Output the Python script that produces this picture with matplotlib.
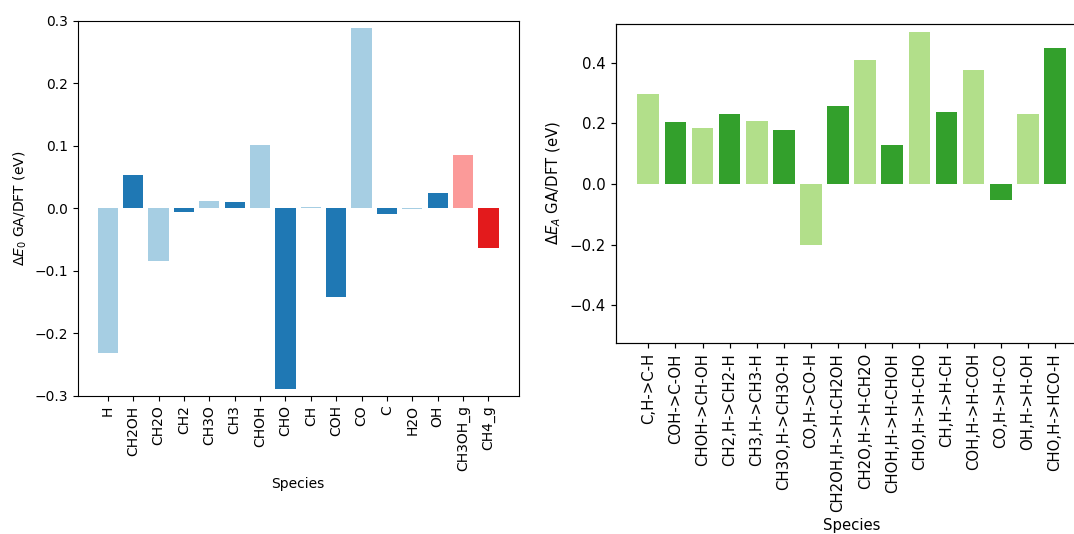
import matplotlib
matplotlib.use('Agg')
import matplotlib.pyplot as plt
import numpy as np

# Especies y diferencias de energia GA/DFT
especies = ['H', 'CH2OH', 'CH2O', 'CH2', 'CH3O', 'CH3', 'CHOH', 'CHO', 'CH',
            'COH', 'CO', 'C', 'H2O', 'OH', 'CH3OH_g', 'CH4_g']
delta_e0 = [-0.2315, 0.053, -0.085, -0.0065, 0.012, 0.0103, 0.101, -0.290, 0.002,
            -0.142, 0.289, -0.010, -0.001, 0.0245, 0.085, -0.064]

# Reacciones y diferencias de energia de activacion
reacciones = ['C,H->C-H', 'COH->C-OH', 'CHOH->CH-OH', 'CH2,H->CH2-H', 'CH3,H->CH3-H',
              'CH3O,H->CH3O-H', 'CO,H->CO-H', 'CH2OH,H->H-CH2OH', 'CH2O,H->H-CH2O',
              'CHOH,H->H-CHOH', 'CHO,H->H-CHO', 'CH,H->H-CH', 'COH,H->H-COH',
              'CO,H->H-CO', 'OH,H->H-OH', 'CHO,H->HCO-H']
delta_ea = [0.297, 0.204, 0.185, 0.230, 0.208, 0.178, -0.200, 0.257, 0.409,
            0.128, 0.501, 0.236, 0.375, -0.052, 0.230, 0.448]

pal = plt.get_cmap('Paired').colors
colores_e0 = [pal[0] if i % 2 == 0 else pal[1] for i in range(len(especies) - 2)] + [pal[4], pal[5]]
colores_ea = [pal[2] if i % 2 == 0 else pal[3] for i in range(len(reacciones))]

fig = plt.figure(figsize=(10.74, 5.34), dpi=100)

# Grafica de energias de especies
ax1 = fig.add_axes([0.0723, 0.259, 0.4106, 0.7022])
ax1.bar(especies, delta_e0, color=colores_e0)
ax1.set_ylim(-0.3, 0.3)
ax1.set_xlabel('Species')
ax1.set_ylabel(r'$\Delta E_0$ GA/DFT (eV)')
ax1.tick_params(axis='x', rotation=90)

# Grafica de energias de activacion (panel un poco mas grande)
esc = 1.074
ax2 = fig.add_axes([0.5736, 0.3582, 0.4387, 0.5968])
ax2.bar(reacciones, delta_ea, color=colores_ea)
ax2.set_ylim(-0.524, 0.528)
ax2.set_xlabel('Species', fontsize=10 * esc, labelpad=4 * esc)
ax2.set_ylabel(r'$\Delta E_A$ GA/DFT (eV)', fontsize=10 * esc, labelpad=4 * esc)
ax2.tick_params(labelsize=10 * esc, length=3.5 * esc, width=0.8 * esc, pad=3.5 * esc)
ax2.tick_params(axis='x', rotation=90)
for s in ax2.spines.values():
    s.set_linewidth(0.8 * esc)

fig.savefig('out.png', dpi=100)
